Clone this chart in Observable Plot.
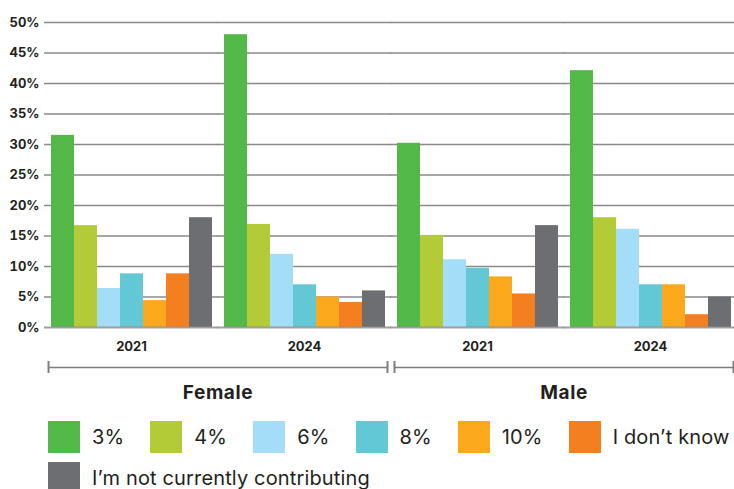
<!DOCTYPE html>
<html>
<head>
<meta charset="utf-8">
<script src="https://cdn.jsdelivr.net/npm/d3@7"></script>
<script src="https://cdn.jsdelivr.net/npm/@observablehq/plot@0.6"></script>
<style>
  body { margin: 0; background: #fff; font-family: Inter, "DejaVu Sans", sans-serif; }
  #legend { padding-left: 48px; margin-top: 4px; }
  .row { display: flex; flex-wrap: nowrap; column-gap: 26px; margin-bottom: 9px; }
  .item { display: flex; align-items: center; }
  .sw { width: 32px; height: 32px; margin-right: 12px; flex: none; }
  .lab { font-size: 20px; letter-spacing: 0.15px; color: #231f20; font-weight: 400; white-space: nowrap; }
</style>
</head>
<body>
<div id="chart"></div>
<div id="brackets"></div>
<div id="legend"></div>
<script>
const sexes = ["Female", "Male"];
const years = ["2021", "2024"];
const answers = ["3%", "4%", "6%", "8%", "10%", "I don’t know", "I’m not currently contributing"];
const colors = ["#52b848", "#b3cb36", "#a3ddf7", "#63c8d6", "#fba81d", "#f47f21", "#6d6e71"];
const female2021 = [31.5, 16.7, 6.4, 8.8, 4.4, 8.8, 18.0];
const female2024 = [48.0, 16.9, 12.0, 7.0, 5.0, 4.1, 6.0];
const male2021 = [30.2, 15.1, 11.1, 9.7, 8.3, 5.5, 16.7];
const male2024 = [42.1, 18.0, 16.1, 7.0, 7.0, 2.1, 5.0];
const yTicks = [0, 5, 10, 15, 20, 25, 30, 35, 40, 45, 50];

const series = {
  "Female 2021": female2021, "Female 2024": female2024,
  "Male 2021": male2021, "Male 2024": male2024
};
const groups = sexes.flatMap(s => years.map(y => `${s} ${y}`));
const data = groups.flatMap(g => answers.map((a, i) => ({group: g, answer: a, value: series[g][i]})));

const font = "Inter, 'DejaVu Sans', sans-serif";
const fxPad = 0.042;

const chart = Plot.plot({
  width: 734, height: 357,
  marginLeft: 48, marginRight: 1, marginTop: 22, marginBottom: 30,
  style: {fontFamily: font, fontSize: "13px", fontWeight: 700, color: "#231f20", background: "#fff"},
  fx: {domain: groups, paddingInner: fxPad, paddingOuter: 0, axis: "bottom", tickSize: 0, tickPadding: 14,
       tickFormat: d => d.split(" ")[1], label: null},
  x: {domain: answers, padding: 0, axis: null},
  y: {domain: [0, 50], ticks: yTicks, tickFormat: d => d + "%", tickSize: 0, tickPadding: 9, label: null},
  color: {domain: answers, range: colors},
  marks: [
    Plot.ruleY(yTicks.filter(t => t > 0), {stroke: "#8a8a8a", strokeWidth: 1.6, insetLeft: -4, insetRight: -4}),
    Plot.barY(data, {fx: "group", x: "answer", y: "value", fill: "answer"}),
    Plot.ruleY([0], {stroke: "#8f8f8f", strokeWidth: 2, strokeOpacity: 0.85, insetLeft: -4, insetRight: -4})
  ]
});
document.getElementById("chart").append(chart);

const ends = sexes.flatMap(s => [0, 1].map(e => ({sex: s, end: e})));
const brackets = Plot.plot({
  width: 734, height: 60,
  marginLeft: 48, marginRight: 1, marginTop: 4, marginBottom: 44,
  style: {fontFamily: font, fontSize: "19px", fontWeight: 700, letterSpacing: "0.6px", color: "#231f20", background: "#fff"},
  fx: {domain: sexes, paddingInner: fxPad / 2, paddingOuter: 0, axis: "bottom", tickSize: 0, tickPadding: 12, label: null},
  x: {domain: [0, 1], axis: null},
  y: {domain: [0, 1], axis: null},
  marks: [
    Plot.ruleY(sexes, {fx: d => d, y: () => 0.5, stroke: "#7d7d7d", strokeWidth: 1.5}),
    Plot.ruleX(ends, {fx: "sex", x: "end", y1: () => 0, y2: () => 1, stroke: "#7d7d7d", strokeWidth: 2})
  ]
});
document.getElementById("brackets").append(brackets);

const legend = d3.select("#legend");
[answers.slice(0, 6), answers.slice(6)].forEach(rowItems => {
  const row = legend.append("div").attr("class", "row");
  rowItems.forEach(a => {
    const it = row.append("div").attr("class", "item");
    it.append("div").attr("class", "sw").style("background", colors[answers.indexOf(a)]);
    it.append("span").attr("class", "lab").text(a);
  });
});
</script>
</body>
</html>
